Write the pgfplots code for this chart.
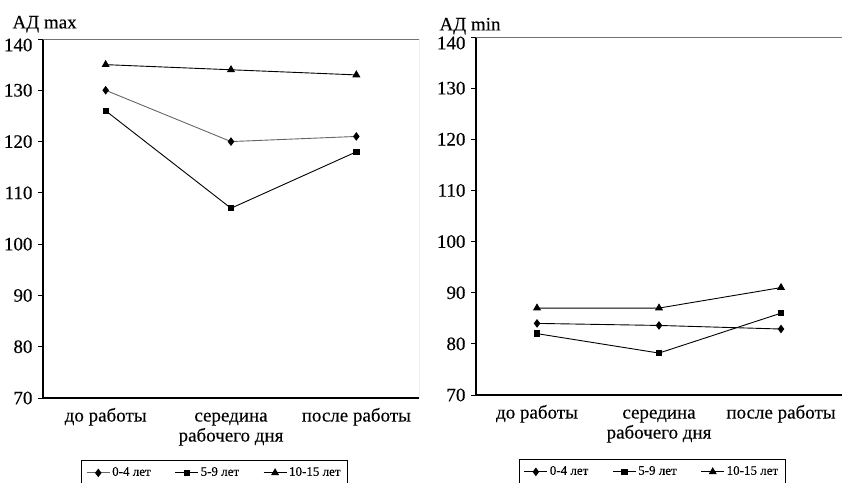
\documentclass[border=0pt]{standalone}
\usepackage{pgfplots}
\pgfplotsset{compat=1.18}
\usepackage{fontspec}
\setmainfont[FakeBold=0.3]{Liberation Serif}
\newfontfamily\lib[FakeBold=0.3]{Liberation Serif}
\newcommand{\tl}[1]{\mbox{\lib\fontsize{19}{20}\selectfont\begin{tabular}[t]{@{}c@{}}#1\end{tabular}}}
\begin{document}
\fontsize{19}{22}\selectfont
\begin{tikzpicture}
\useasboundingbox (0,0) rectangle (842pt,482pt);
\pgfplotsset{
  common/.style={
    scale only axis,
    xmin=0.5, xmax=3.5, ymin=70, ymax=140,
    ytick={70,80,...,130},
    extra y ticks={140},
    extra y tick style={yticklabel style={yshift=-6pt}},
    yticklabel={\mbox{\lib\fontsize{19}{22}\selectfont\pgfmathprintnumber[assume math mode=true]{\tick}}},
    xtick={1,2,3},
    xticklabels={\tl{до работы}, \tl{середина\\рабочего дня}, \tl{после работы}},
    xticklabel style={anchor=north, yshift=2pt},
    yticklabel style={xshift=1pt},
    major x tick style={draw=none},
    extra x ticks={1.5,2.5,3.5}, extra x tick labels={},
    extra x tick style={major tick style={black, line width=0.8pt, draw=black}, major tick length=5pt},
    tick align=outside, major tick length=5pt,
    tick style={black, line width=0.8pt},
    axis x line*=bottom, axis y line*=left,
    axis line style={-, black, line width=1.1pt},
    title style={anchor=south west, font=\lib\fontsize{19}{22}\selectfont},
    legend columns=3,
    legend style={anchor=north, draw=black, line width=0.8pt,
      font=\lib\fontsize{13}{15}\selectfont, inner xsep=5pt, inner ysep=5pt,
      /tikz/every even column/.append style={column sep=22pt}},
    legend image code/.code={\draw[mark repeat=2,mark phase=2] plot coordinates {(0pt,0pt)(11.5pt,0pt)(23pt,0pt)};},
    every axis plot/.append style={line width=0.9pt},
  },
  s1/.style={color=black, mark=diamond*, mark size=3.6pt, mark options={solid, fill=black, draw=black}},
  s2/.style={color=black, mark=square*, mark size=2.7pt, mark options={solid, fill=black, draw=black}},
  s3/.style={color=black, mark=triangle*, mark size=3.8pt, mark options={solid, fill=black, draw=black}},
}
\begin{axis}[common, at={(43pt,84pt)}, anchor=south west, width=376pt, height=359pt,
  title={АД max}, title style={at={(0,1)}, xshift=-37pt, yshift=-6pt},
  legend style={at={(0.456,-0.172)}}]
\addplot[s1, color=black!60, mark options={solid, fill=black, draw=black}] coordinates {(1,130) (2,120) (3,121)};
\addplot[s2] coordinates {(1,126) (2,107) (3,118)};
\addplot[s3] coordinates {(1,135) (2,134) (3,133)};
\legend{0-4 лет, 5-9 лет, 10-15 лет}
\draw[black!55, line width=0.8pt] (rel axis cs:0,1) -- (rel axis cs:1,1) -- (rel axis cs:1,0);
\end{axis}
\begin{axis}[common, at={(476pt,87pt)}, anchor=south west, width=366pt, height=358pt,
  title={АД min}, title style={at={(0,1)}, xshift=-43pt, yshift=-10pt},
  legend style={at={(0.481,-0.178)}}]
\addplot[s1] coordinates {(1,84) (2,83.6) (3,82.9)};
\addplot[s2] coordinates {(1,82) (2,78.2) (3,86)};
\addplot[s3] coordinates {(1,87) (2,87) (3,91)};
\legend{0-4 лет, 5-9 лет, 10-15 лет}
\draw[black!55, line width=0.8pt] (rel axis cs:0,1) -- (rel axis cs:1,1) -- (rel axis cs:1,0);
\end{axis}
\end{tikzpicture}
\end{document}
